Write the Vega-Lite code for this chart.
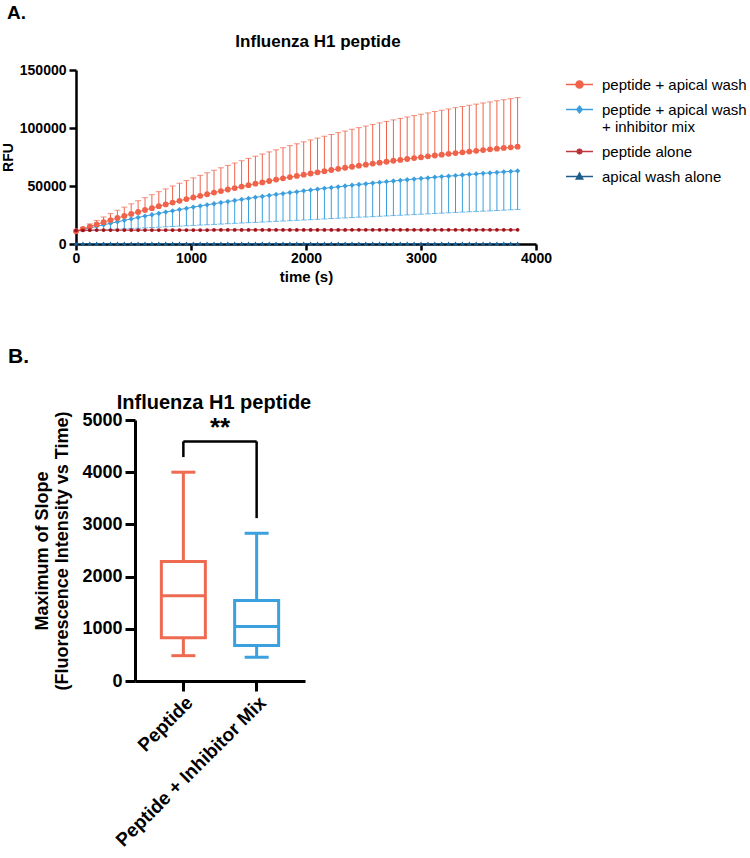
{
  "$schema": "https://vega.github.io/schema/vega-lite/v6.json",
  "padding": {"left": 0, "top": 4, "right": 0, "bottom": 0},
  "background": "white",
  "config": {
    "font": "Liberation Sans",
    "view": {"stroke": null},
    "axis": {"grid": false, "domainColor": "black", "tickColor": "black", "labelColor": "black", "titleColor": "black", "labelFontWeight": "bold", "titleFontWeight": "bold", "labelFlush": false},
    "title": {"color": "black", "fontWeight": "bold"}
  },
  "spacing": 62,
  "resolve": {"scale": {"fill": "independent", "stroke": "independent", "shape": "independent", "color": "independent"}},
  "vconcat": [
    {
      "title": {"text": "A.", "anchor": "start", "fontSize": 19, "dx": 7, "offset": 10},
      "resolve": {"scale": {"fill": "independent", "stroke": "independent", "shape": "independent", "color": "independent"}},
      "spacing": 0,
      "hconcat": [
        {
          "width": 1,
          "height": 1,
          "data": {"values": [{}]},
          "mark": {"type": "point", "opacity": 0, "size": 0, "strokeWidth": 0}
        },
        {
          "width": 460,
          "height": 174,
          "title": {"text": "Influenza H1 peptide", "fontSize": 17, "frame": "group", "dx": 12, "offset": 12},
          "data": {"values": [
            {"t":0,"pw":11000,"pwh":11000,"pwi":11000,"pwil":11000,"pa":11600,"aw":300},
            {"t":60,"pw":13000,"pwh":14200,"pwi":12400,"pwil":11300,"pa":11800,"aw":300},
            {"t":120,"pw":15000,"pwh":17300,"pwi":13800,"pwil":11600,"pa":11900,"aw":300},
            {"t":180,"pw":16900,"pwh":20300,"pwi":15200,"pwil":11900,"pa":12000,"aw":300},
            {"t":240,"pw":18800,"pwh":23300,"pwi":16500,"pwil":12200,"pa":12000,"aw":300},
            {"t":300,"pw":20600,"pwh":26200,"pwi":17900,"pwil":12500,"pa":12000,"aw":300},
            {"t":360,"pw":22400,"pwh":29100,"pwi":19100,"pwil":12800,"pa":12000,"aw":300},
            {"t":420,"pw":24200,"pwh":31800,"pwi":20400,"pwil":13100,"pa":12000,"aw":300},
            {"t":480,"pw":25900,"pwh":34600,"pwi":21600,"pwil":13400,"pa":12000,"aw":300},
            {"t":540,"pw":27600,"pwh":37300,"pwi":22900,"pwil":13600,"pa":12000,"aw":300},
            {"t":600,"pw":29300,"pwh":39900,"pwi":24100,"pwil":13900,"pa":12000,"aw":300},
            {"t":660,"pw":30900,"pwh":42500,"pwi":25200,"pwil":14200,"pa":12000,"aw":300},
            {"t":720,"pw":32600,"pwh":45100,"pwi":26400,"pwil":14500,"pa":12000,"aw":300},
            {"t":780,"pw":34100,"pwh":47500,"pwi":27500,"pwil":14800,"pa":12000,"aw":300},
            {"t":840,"pw":35700,"pwh":50000,"pwi":28600,"pwil":15100,"pa":12000,"aw":300},
            {"t":900,"pw":37200,"pwh":52400,"pwi":29700,"pwil":15400,"pa":12000,"aw":300},
            {"t":960,"pw":38700,"pwh":54700,"pwi":30700,"pwil":15700,"pa":12000,"aw":300},
            {"t":1020,"pw":40100,"pwh":57000,"pwi":31800,"pwil":16000,"pa":12000,"aw":300},
            {"t":1080,"pw":41500,"pwh":59200,"pwi":32800,"pwil":16300,"pa":12000,"aw":300},
            {"t":1140,"pw":42900,"pwh":61400,"pwi":33800,"pwil":16600,"pa":12000,"aw":300},
            {"t":1200,"pw":44300,"pwh":63600,"pwi":34700,"pwil":16900,"pa":12100,"aw":300},
            {"t":1260,"pw":45600,"pwh":65700,"pwi":35700,"pwil":17200,"pa":12100,"aw":300},
            {"t":1320,"pw":47000,"pwh":67800,"pwi":36600,"pwil":17500,"pa":12100,"aw":300},
            {"t":1380,"pw":48200,"pwh":69800,"pwi":37500,"pwil":17800,"pa":12100,"aw":300},
            {"t":1440,"pw":49500,"pwh":71800,"pwi":38400,"pwil":18100,"pa":12100,"aw":300},
            {"t":1500,"pw":50700,"pwh":73800,"pwi":39300,"pwil":18400,"pa":12100,"aw":300},
            {"t":1560,"pw":52000,"pwh":75700,"pwi":40200,"pwil":18600,"pa":12100,"aw":300},
            {"t":1620,"pw":53100,"pwh":77600,"pwi":41000,"pwil":18900,"pa":12100,"aw":300},
            {"t":1680,"pw":54300,"pwh":79400,"pwi":41900,"pwil":19200,"pa":12100,"aw":300},
            {"t":1740,"pw":55500,"pwh":81200,"pwi":42700,"pwil":19500,"pa":12100,"aw":300},
            {"t":1800,"pw":56600,"pwh":83000,"pwi":43500,"pwil":19800,"pa":12100,"aw":300},
            {"t":1860,"pw":57700,"pwh":84800,"pwi":44300,"pwil":20100,"pa":12100,"aw":300},
            {"t":1920,"pw":58700,"pwh":86400,"pwi":45000,"pwil":20400,"pa":12100,"aw":300},
            {"t":1980,"pw":59800,"pwh":88100,"pwi":45800,"pwil":20700,"pa":12100,"aw":300},
            {"t":2040,"pw":60800,"pwh":89700,"pwi":46500,"pwil":21000,"pa":12100,"aw":300},
            {"t":2100,"pw":61800,"pwh":91300,"pwi":47200,"pwil":21300,"pa":12100,"aw":300},
            {"t":2160,"pw":62800,"pwh":92900,"pwi":48000,"pwil":21600,"pa":12100,"aw":300},
            {"t":2220,"pw":63800,"pwh":94500,"pwi":48600,"pwil":21900,"pa":12100,"aw":300},
            {"t":2280,"pw":64800,"pwh":96000,"pwi":49300,"pwil":22200,"pa":12100,"aw":300},
            {"t":2340,"pw":65700,"pwh":97400,"pwi":50000,"pwil":22500,"pa":12100,"aw":300},
            {"t":2400,"pw":66600,"pwh":98900,"pwi":50700,"pwil":22800,"pa":12200,"aw":300},
            {"t":2460,"pw":67500,"pwh":100300,"pwi":51300,"pwil":23100,"pa":12200,"aw":300},
            {"t":2520,"pw":68400,"pwh":101700,"pwi":51900,"pwil":23300,"pa":12200,"aw":300},
            {"t":2580,"pw":69300,"pwh":103100,"pwi":52500,"pwil":23600,"pa":12200,"aw":300},
            {"t":2640,"pw":70100,"pwh":104400,"pwi":53100,"pwil":23900,"pa":12200,"aw":300},
            {"t":2700,"pw":70900,"pwh":105700,"pwi":53700,"pwil":24200,"pa":12200,"aw":300},
            {"t":2760,"pw":71800,"pwh":107000,"pwi":54300,"pwil":24500,"pa":12200,"aw":300},
            {"t":2820,"pw":72500,"pwh":108300,"pwi":54900,"pwil":24800,"pa":12200,"aw":300},
            {"t":2880,"pw":73300,"pwh":109500,"pwi":55400,"pwil":25100,"pa":12200,"aw":300},
            {"t":2940,"pw":74100,"pwh":110700,"pwi":56000,"pwil":25400,"pa":12200,"aw":300},
            {"t":3000,"pw":74800,"pwh":111900,"pwi":56500,"pwil":25700,"pa":12200,"aw":300},
            {"t":3060,"pw":75600,"pwh":113000,"pwi":57000,"pwil":26000,"pa":12200,"aw":300},
            {"t":3120,"pw":76300,"pwh":114200,"pwi":57600,"pwil":26300,"pa":12200,"aw":300},
            {"t":3180,"pw":77000,"pwh":115300,"pwi":58100,"pwil":26600,"pa":12200,"aw":300},
            {"t":3240,"pw":77700,"pwh":116400,"pwi":58500,"pwil":26900,"pa":12200,"aw":300},
            {"t":3300,"pw":78400,"pwh":117500,"pwi":59000,"pwil":27200,"pa":12200,"aw":300},
            {"t":3360,"pw":79000,"pwh":118500,"pwi":59500,"pwil":27500,"pa":12200,"aw":300},
            {"t":3420,"pw":79700,"pwh":119600,"pwi":60000,"pwil":27800,"pa":12200,"aw":300},
            {"t":3480,"pw":80300,"pwh":120600,"pwi":60400,"pwil":28100,"pa":12200,"aw":300},
            {"t":3540,"pw":81000,"pwh":121600,"pwi":60900,"pwil":28300,"pa":12200,"aw":300},
            {"t":3600,"pw":81600,"pwh":122500,"pwi":61300,"pwil":28600,"pa":12200,"aw":300},
            {"t":3660,"pw":82200,"pwh":123500,"pwi":61700,"pwil":28900,"pa":12200,"aw":300},
            {"t":3720,"pw":82800,"pwh":124400,"pwi":62200,"pwil":29200,"pa":12200,"aw":300},
            {"t":3780,"pw":83300,"pwh":125300,"pwi":62600,"pwil":29500,"pa":12200,"aw":300},
            {"t":3840,"pw":83900,"pwh":126200,"pwi":63000,"pwil":29800,"pa":12200,"aw":300}
          ]},
          "layer": [
            {
              "mark": {"type": "rule", "color": "#3A9FDE", "strokeWidth": 1},
              "encoding": {
                "x": {"field": "t", "type": "quantitative", "scale": {"domain": [0, 4000], "nice": false},
                  "axis": {"title": "time (s)", "values": [0, 1000, 2000, 3000, 4000], "format": "d", "labelFontSize": 14, "titleFontSize": 15, "tickSize": 6, "tickWidth": 2.5, "domainWidth": 2.5, "labelPadding": 1, "titlePadding": 4, "labelFlush": false}},
                "y": {"field": "pwi", "type": "quantitative", "scale": {"domain": [0, 150000], "nice": false},
                  "axis": {"title": "RFU", "values": [0, 50000, 100000, 150000], "format": "d", "labelFontSize": 14, "titleFontSize": 14, "tickSize": 7, "tickWidth": 2.5, "domainWidth": 2.5, "labelPadding": 3, "titlePadding": 4, "labelFlush": false}},
                "y2": {"field": "pwil"}
              }
            },
            {
              "mark": {"type": "tick", "orient": "horizontal", "color": "#3A9FDE", "size": 6, "thickness": 1},
              "encoding": {"x": {"field": "t", "type": "quantitative"}, "y": {"field": "pwil", "type": "quantitative"}}
            },
            {
              "mark": {"type": "line", "color": "#3A9FDE", "strokeWidth": 1},
              "encoding": {"x": {"field": "t", "type": "quantitative"}, "y": {"field": "pwi", "type": "quantitative"}}
            },
            {
              "mark": {"type": "point", "shape": "diamond", "filled": true, "color": "#3A9FDE", "size": 28, "opacity": 1},
              "encoding": {"x": {"field": "t", "type": "quantitative"}, "y": {"field": "pwi", "type": "quantitative"}}
            },
            {
              "mark": {"type": "rule", "color": "#F0634A", "strokeWidth": 1},
              "encoding": {"x": {"field": "t", "type": "quantitative"}, "y": {"field": "pw", "type": "quantitative"}, "y2": {"field": "pwh"}}
            },
            {
              "mark": {"type": "tick", "orient": "horizontal", "color": "#F0634A", "size": 6, "thickness": 1},
              "encoding": {"x": {"field": "t", "type": "quantitative"}, "y": {"field": "pwh", "type": "quantitative"}}
            },
            {
              "mark": {"type": "line", "color": "#F0634A", "strokeWidth": 1},
              "encoding": {"x": {"field": "t", "type": "quantitative"}, "y": {"field": "pw", "type": "quantitative"}}
            },
            {
              "mark": {"type": "point", "shape": "circle", "filled": true, "color": "#F0634A", "size": 34, "opacity": 1},
              "encoding": {"x": {"field": "t", "type": "quantitative"}, "y": {"field": "pw", "type": "quantitative"}}
            },
            {
              "mark": {"type": "line", "color": "#C0393F", "strokeWidth": 1.2},
              "encoding": {"x": {"field": "t", "type": "quantitative"}, "y": {"field": "pa", "type": "quantitative"}}
            },
            {
              "mark": {"type": "point", "shape": "circle", "filled": true, "color": "#A1131B", "size": 14, "opacity": 1},
              "encoding": {"x": {"field": "t", "type": "quantitative"}, "y": {"field": "pa", "type": "quantitative"}}
            },
            {
              "mark": {"type": "line", "color": "#1E5C8A", "strokeWidth": 1.2},
              "encoding": {"x": {"field": "t", "type": "quantitative"}, "y": {"field": "aw", "type": "quantitative"}}
            },
            {
              "mark": {"type": "point", "shape": "triangle-up", "filled": true, "color": "#1E5C8A", "size": 26, "opacity": 1},
              "encoding": {"x": {"field": "t", "type": "quantitative"}, "y": {"field": "aw", "type": "quantitative"}}
            },
            {
              "data": {"values": [
                {"series": "peptide + apical wash"},
                {"series": "peptide + apical wash + inhibitor mix"},
                {"series": "peptide alone"},
                {"series": "apical wash alone"}
              ]},
              "mark": {"type": "point", "filled": true, "opacity": 0},
              "encoding": {
                "fill": {"field": "series", "type": "nominal",
                  "scale": {"domain": ["peptide + apical wash", "peptide + apical wash + inhibitor mix", "peptide alone", "apical wash alone"], "range": ["#F0634A", "#3A9FDE", "#A1131B", "#1E5C8A"]},
                  "legend": {"title": null, "orient": "right", "offset": 29, "symbolSize": 729, "symbolStrokeWidth": 1.5, "symbolOpacity": 1, "labelFontSize": 15, "labelColor": "black", "labelFont": "Liberation Sans", "labelOffset": 8, "rowPadding": 2, "labelLimit": 400,
                    "labelExpr": "datum.label == 'peptide + apical wash + inhibitor mix' ? ['peptide + apical wash', '+ inhibitor mix'] : datum.label"}},
                "stroke": {"field": "series", "type": "nominal",
                  "scale": {"domain": ["peptide + apical wash", "peptide + apical wash + inhibitor mix", "peptide alone", "apical wash alone"], "range": ["#F0634A", "#3A9FDE", "#C0393F", "#1E5C8A"]},
                  "legend": {"title": null, "orient": "right", "offset": 29, "symbolSize": 729, "symbolStrokeWidth": 1.5, "symbolOpacity": 1, "labelFontSize": 15, "labelColor": "black", "labelFont": "Liberation Sans", "labelOffset": 8, "rowPadding": 2, "labelLimit": 400,
                    "labelExpr": "datum.label == 'peptide + apical wash + inhibitor mix' ? ['peptide + apical wash', '+ inhibitor mix'] : datum.label"}},
                "shape": {"field": "series", "type": "nominal",
                  "scale": {"domain": ["peptide + apical wash", "peptide + apical wash + inhibitor mix", "peptide alone", "apical wash alone"],
                    "range": [
                      "M-1,0H1M0.26,0A0.26,0.26,0,1,1,-0.26,0A0.26,0.26,0,1,1,0.26,0Z",
                      "M-1,0H1M0,-0.24L0.2,0L0,0.24L-0.2,0Z",
                      "M-1,0H1M0.17,0A0.17,0.17,0,1,1,-0.17,0A0.17,0.17,0,1,1,0.17,0Z",
                      "M-1,0H1M0,-0.26L0.24,0.18L-0.24,0.18Z"
                    ]},
                  "legend": {"title": null, "orient": "right", "offset": 29, "symbolSize": 729, "symbolStrokeWidth": 1.5, "symbolOpacity": 1, "labelFontSize": 15, "labelColor": "black", "labelFont": "Liberation Sans", "labelOffset": 8, "rowPadding": 2, "labelLimit": 400,
                    "labelExpr": "datum.label == 'peptide + apical wash + inhibitor mix' ? ['peptide + apical wash', '+ inhibitor mix'] : datum.label"}}
              }
            }
          ]
        }
      ]
    },
    {
      "title": {"text": "B.", "anchor": "start", "fontSize": 21, "dx": 8, "offset": 26},
      "resolve": {"scale": {"fill": "independent", "stroke": "independent", "shape": "independent", "color": "independent"}},
      "spacing": 0,
      "hconcat": [
        {
          "width": 33,
          "height": 1,
          "data": {"values": [{}]},
          "mark": {"type": "point", "opacity": 0, "size": 0, "strokeWidth": 0}
        },
        {
          "width": 170,
          "height": 261,
          "title": {"text": "Influenza H1 peptide", "fontSize": 20, "frame": "group", "dx": -6, "offset": -2},
          "data": {"values": [
            {"g": "Peptide", "min": 485, "q1": 830, "med": 1635, "q3": 2290, "max": 4000},
            {"g": "Peptide + Inhibitor Mix", "min": 455, "q1": 680, "med": 1045, "q3": 1540, "max": 2830}
          ]},
          "layer": [
            {
              "mark": {"type": "rule", "strokeWidth": 3},
              "encoding": {
                "x": {"field": "g", "type": "nominal", "scale": {"type": "band", "domain": ["Peptide", "Peptide + Inhibitor Mix"], "paddingInner": 0, "paddingOuter": 0.16},
                  "axis": {"title": null, "labelAngle": -45, "labelFontSize": 19, "labelLimit": 400, "tickSize": 10, "tickWidth": 3, "domainWidth": 3, "labelPadding": 2}},
                "y": {"field": "min", "type": "quantitative", "scale": {"domain": [0, 5000], "nice": false},
                  "axis": {"title": ["Maximum of Slope", "(Fluorescence Intensity vs Time)"], "values": [0, 1000, 2000, 3000, 4000, 5000], "format": "d", "labelFontSize": 18, "titleFontSize": 18, "tickSize": 10, "tickWidth": 3, "domainWidth": 3, "labelPadding": 3, "titlePadding": 10, "labelFlush": false}},
                "y2": {"field": "q1"},
                "stroke": {"condition": {"test": "datum.g == 'Peptide'", "value": "#EE6A50"}, "value": "#3BA0DE"}
              }
            },
            {
              "mark": {"type": "rule", "strokeWidth": 3},
              "encoding": {
                "x": {"field": "g", "type": "nominal"},
                "y": {"field": "q3", "type": "quantitative"},
                "y2": {"field": "max"},
                "stroke": {"condition": {"test": "datum.g == 'Peptide'", "value": "#EE6A50"}, "value": "#3BA0DE"}
              }
            },
            {
              "mark": {"type": "bar", "fill": "white", "strokeWidth": 3, "width": 44},
              "encoding": {
                "x": {"field": "g", "type": "nominal"},
                "y": {"field": "q1", "type": "quantitative"},
                "y2": {"field": "q3"},
                "stroke": {"condition": {"test": "datum.g == 'Peptide'", "value": "#EE6A50"}, "value": "#3BA0DE"}
              }
            },
            {
              "mark": {"type": "tick", "orient": "horizontal", "size": 44, "thickness": 3, "opacity": 1},
              "encoding": {
                "x": {"field": "g", "type": "nominal"},
                "y": {"field": "med", "type": "quantitative"},
                "color": {"condition": {"test": "datum.g == 'Peptide'", "value": "#EE6A50"}, "value": "#3BA0DE"}
              }
            },
            {
              "mark": {"type": "tick", "orient": "horizontal", "size": 24, "thickness": 3, "opacity": 1},
              "encoding": {
                "x": {"field": "g", "type": "nominal"},
                "y": {"field": "min", "type": "quantitative"},
                "color": {"condition": {"test": "datum.g == 'Peptide'", "value": "#EE6A50"}, "value": "#3BA0DE"}
              }
            },
            {
              "mark": {"type": "tick", "orient": "horizontal", "size": 24, "thickness": 3, "opacity": 1},
              "encoding": {
                "x": {"field": "g", "type": "nominal"},
                "y": {"field": "max", "type": "quantitative"},
                "color": {"condition": {"test": "datum.g == 'Peptide'", "value": "#EE6A50"}, "value": "#3BA0DE"}
              }
            },
            {
              "data": {"values": [
                {"g": "Peptide", "lo": 4290, "hi": 4590},
                {"g": "Peptide + Inhibitor Mix", "lo": 3120, "hi": 4590}
              ]},
              "mark": {"type": "rule", "strokeWidth": 2.5, "color": "black"},
              "encoding": {
                "x": {"field": "g", "type": "nominal"},
                "y": {"field": "lo", "type": "quantitative"},
                "y2": {"field": "hi"}
              }
            },
            {
              "data": {"values": [{"a": "Peptide", "b": "Peptide + Inhibitor Mix", "y": 4590}]},
              "mark": {"type": "rule", "strokeWidth": 2.5, "color": "black"},
              "encoding": {
                "x": {"field": "a", "type": "nominal"},
                "x2": {"field": "b"},
                "y": {"field": "y", "type": "quantitative"}
              }
            },
            {
              "data": {"values": [{"a": "Peptide", "y": 4850, "label": "**"}]},
              "mark": {"type": "text", "fontSize": 26, "fontWeight": "bold", "color": "black", "baseline": "middle", "align": "center"},
              "encoding": {
                "x": {"field": "a", "type": "nominal", "bandPosition": 1},
                "y": {"field": "y", "type": "quantitative"},
                "text": {"field": "label"}
              }
            }
          ]
        }
      ]
    }
  ]
}
